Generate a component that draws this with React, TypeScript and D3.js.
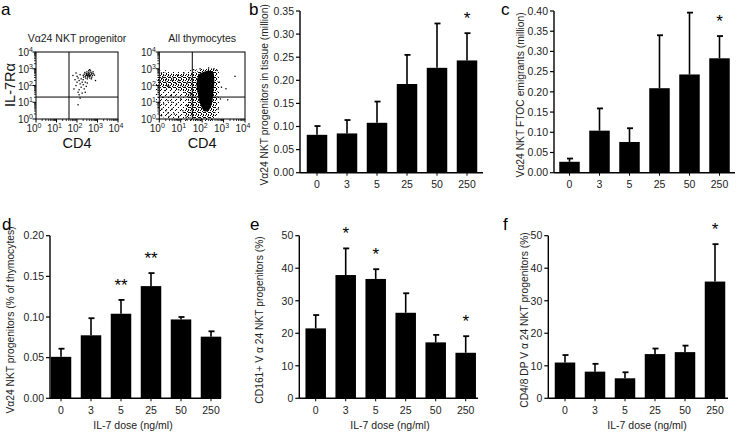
import React from "react";
import * as d3 from "d3";

// ---------- data ----------
const doses = ["0", "3", "5", "25", "50", "250"];

const tissueMean = [0.082, 0.085, 0.108, 0.192, 0.227, 0.243];
const tissueSd = [0.019, 0.029, 0.046, 0.063, 0.096, 0.059];
const tissueSig = ["", "", "", "", "", "*"];

const emigrantMean = [0.027, 0.104, 0.076, 0.209, 0.243, 0.283];
const emigrantSd = [0.008, 0.055, 0.034, 0.131, 0.153, 0.055];
const emigrantSig = ["", "", "", "", "", "*"];

const pctMean = [0.051, 0.0775, 0.104, 0.138, 0.097, 0.0758];
const pctSd = [0.01, 0.021, 0.017, 0.016, 0.003, 0.0066];
const pctSig = ["", "", "**", "**", "", ""];

const cd161Mean = [21.5, 37.9, 36.7, 26.3, 17.2, 14.0];
const cd161Sd = [4.1, 8.2, 3.0, 6.0, 2.3, 5.1];
const cd161Sig = ["", "*", "*", "", "", "*"];

const dpMean = [11.0, 8.2, 6.15, 13.6, 14.2, 35.9];
const dpSd = [2.3, 2.4, 1.85, 1.7, 2.0, 11.5];
const dpSig = ["", "", "", "", "", "*"];

const decades = [0, 1, 2, 3, 4];

// flow cytometry events, log10 units [CD4, IL-7Ra]
const nktEvents: [number, number][] = [
  [2.55, 2.65], [2.6, 2.7], [2.5, 2.6], [2.45, 2.72], [2.65, 2.58], [2.7, 2.68], [2.58, 2.8], [2.4, 2.55],
  [2.52, 2.5], [2.62, 2.45], [2.75, 2.6], [2.68, 2.78], [2.48, 2.82], [2.35, 2.68], [2.57, 2.9], [2.8, 2.7],
  [2.72, 2.5], [2.42, 2.45], [2.3, 2.6], [2.5, 2.4], [2.66, 2.88], [2.85, 2.62], [2.38, 2.78], [2.6, 2.55],
  [2.55, 2.75], [2.46, 2.64], [2.7, 2.4], [2.78, 2.82], [2.32, 2.5], [2.62, 2.95], [2.53, 2.57], [2.64, 2.63],
  [2.59, 2.6], [2.49, 2.69], [2.73, 2.73], [2.44, 2.6],
  [2.2, 2.4], [2.1, 2.3], [2.25, 2.2], [2.05, 2.45], [2.15, 2.1], [2.3, 2.05], [2.0, 2.2], [1.95, 2.0],
  [2.2, 1.9], [2.35, 1.8], [2.1, 1.75], [1.9, 2.35], [2.4, 2.2], [2.05, 1.6], [2.25, 1.55], [1.85, 1.8],
  [2.45, 1.95], [2.0, 2.55], [1.8, 2.6], [2.15, 2.65], [2.3, 2.35], [2.5, 2.15], [2.4, 1.6], [2.1, 1.45],
  [2.05, 0.85], [2.15, 1.25], [2.9, 2.3], [1.95, 2.75]
];

const thymBroad: [number, number][] = [
  [0.02, 2.85], [0.8, 2.8], [1.7, 2.95], [2.7, 2.95], [2.8, 1.5], [2.7, 0.02], [0.5, 0.02], [0.02, 0.25]
];
const thymMid: [number, number][] = [
  [0.02, 2.72], [0.8, 2.68], [1.6, 2.75], [1.9, 2.9], [2.6, 2.95], [2.72, 1.9], [2.65, 0.6], [2.5, 0.08],
  [1.7, 0.04], [1.15, 0.25], [1.35, 1.1], [1.1, 1.65], [0.5, 1.8], [0.02, 1.9]
];
const thymCore: [number, number][] = [
  [1.85, 2.65], [2.05, 2.8], [2.3, 2.88], [2.5, 2.82], [2.57, 2.3], [2.52, 1.6], [2.47, 1.0], [2.33, 0.55],
  [2.12, 0.45], [1.92, 0.85], [1.8, 1.5], [1.74, 2.1]
];
const thymStray: [number, number][] = [
  [0.1, 0.2], [0.3, 0.5], [0.2, 0.9], [0.45, 0.15], [0.6, 0.6], [0.15, 1.3], [0.4, 1.1], [0.7, 0.3],
  [0.55, 1.4], [0.25, 1.7], [0.8, 0.9], [0.9, 0.15], [0.05, 2.2], [0.35, 2.0], [0.7, 1.6], [1.0, 1.2],
  [1.1, 0.5], [0.95, 2.3], [1.2, 1.9], [1.3, 0.8], [0.5, 2.5], [0.2, 2.6], [0.65, 2.45], [1.4, 2.4],
  [1.45, 1.5], [0.85, 2.6], [1.55, 0.4], [1.15, 2.75], [0.1, 2.75], [0.3, 2.35], [0.75, 2.15], [1.05, 2.55],
  [2.8, 2.2], [2.85, 1.2], [2.75, 0.6], [2.9, 1.9], [2.7, 2.9], [1.6, 2.95], [1.9, 3.0], [2.3, 3.05],
  [2.55, 3.0], [3.53, 2.55], [3.11, 1.81], [3.19, 1.15], [0.4, 0.35], [0.12, 0.6], [0.58, 1.0], [1.25, 0.1],
  [0.02, 1.0], [0.9, 1.75], [0.3, 2.2], [0.6, 2.3], [0.15, 2.45], [1.3, 2.15], [0.45, 1.95], [1.0, 2.0]
];

const FONT = "'Liberation Sans', Arial, sans-serif";

// ---------- bar panel ----------
type BarCfg = {
  letter: string; letterX: number; letterY: number;
  axisX: number; firstCenter: number; xEnd: number;
  y0: number; yTop: number; yMax: number; yStep: number; fmt: string;
  mean: number[]; sd: number[]; sig: string[];
  label: string; labelX: number; titleX?: number;
};

function BarPanel({ c }: { c: BarCfg }) {
  const x = d3.scalePoint<string>().domain(doses).range([c.firstCenter, c.firstCenter + 150]);
  const y = d3.scaleLinear().domain([0, c.yMax]).range([c.y0, c.yTop]);
  const ticks = d3.range(0, c.yMax + c.yStep / 2, c.yStep);
  const f = d3.format(c.fmt);
  const bw = 20.5;
  const midY = (c.y0 + c.yTop) / 2 + 3;
  return (
    <g fontFamily={FONT}>
      <text x={c.letterX} y={c.letterY} fontSize={17}>{c.letter}</text>
      <line x1={c.axisX} x2={c.axisX} y1={c.yTop} y2={c.y0} stroke="#000" strokeWidth={1.4} />
      <line x1={c.axisX} x2={c.xEnd} y1={c.y0} y2={c.y0} stroke="#000" strokeWidth={1.4} />
      {ticks.map((t, i) => (
        <g key={i}>
          <line x1={c.axisX - 4} x2={c.axisX} y1={y(t)} y2={y(t)} stroke="#000" strokeWidth={1.2} />
          <text x={c.axisX - 6} y={y(t)} dy="0.36em" fontSize={10.5} textAnchor="end" fill="#222">{f(t)}</text>
        </g>
      ))}
      {doses.map((d, i) => {
        const cx = x(d)!;
        const top = y(c.mean[i] + c.sd[i]);
        return (
          <g key={d}>
            <line x1={cx} x2={cx} y1={c.y0} y2={c.y0 + 3} stroke="#000" strokeWidth={1} />
            <line x1={cx} x2={cx} y1={y(c.mean[i])} y2={top} stroke="#000" strokeWidth={1.6} />
            <line x1={cx - 2.5} x2={cx + 3.5} y1={top} y2={top} stroke="#000" strokeWidth={1.8} />
            <rect x={cx - bw / 2} y={y(c.mean[i])} width={bw} height={c.y0 - y(c.mean[i])} fill="#000" />
            <text x={cx} y={c.y0 + 15.5} fontSize={10.5} textAnchor="middle" fill="#222">{d}</text>
            {c.sig[i] && (
              <text x={cx} y={top - 9} fontSize={17} textAnchor="middle">{c.sig[i]}</text>
            )}
          </g>
        );
      })}
      <text transform={`translate(${c.labelX},${midY}) rotate(-90)`} fontSize={10.3} textAnchor="middle" fill="#222">{c.label}</text>
      {c.titleX !== undefined && (
        <text x={c.titleX} y={429} fontSize={10.5} textAnchor="middle" fill="#222">IL-7 dose (ng/ml)</text>
      )}
    </g>
  );
}

// ---------- flow panel ----------
type FlowCfg = {
  x0: number; x1: number; top: number; bottom: number;
  gateX: number; gateY: number; title: string;
  events: [number, number][];
  broad?: [number, number][]; mid?: [number, number][]; core?: [number, number][];
  yLabelX: number;
};

function Pow({ x, y, e, anchor }: { x: number; y: number; e: number; anchor: string }) {
  return (
    <text x={x} y={y} fontSize={10} textAnchor={anchor} fill="#222">
      10<tspan dy={-4} fontSize={7}>{e}</tspan>
    </text>
  );
}

function FlowPanel({ c }: { c: FlowCfg }) {
  const sx = d3.scaleLinear().domain([0, 4]).range([c.x0, c.x1]);
  const sy = d3.scaleLinear().domain([0, 4]).range([c.bottom, c.top]);
  const line = d3.line<[number, number]>().x((d) => sx(d[0])).y((d) => sy(d[1])).curve(d3.curveCatmullRomClosed);
  const minor: number[] = [];
  for (let d = 0; d < 4; d++) for (let k = 2; k <= 9; k++) minor.push(d + Math.log10(k));
  return (
    <g fontFamily={FONT}>
      <text x={(c.x0 + c.x1) / 2} y={41.5} fontSize={10.5} textAnchor="middle" fill="#222">{c.title}</text>
      {c.broad && <path d={line(c.broad)!} fill="url(#sparse)" />}
      {c.mid && <path d={line(c.mid)!} fill="url(#mid)" />}
      {c.core && <path d={line(c.core)!} fill="#000" />}
      {c.events.map((p, i) => (
        <rect key={i} x={sx(p[0]) - 0.6} y={sy(p[1]) - 0.6} width={1.3} height={1.3} fill="#000" />
      ))}
      <rect x={c.x0} y={c.top} width={c.x1 - c.x0} height={c.bottom - c.top} fill="none" stroke="#000" strokeWidth={1} />
      <line x1={sx(c.gateX)} x2={sx(c.gateX)} y1={c.top} y2={c.bottom} stroke="#000" strokeWidth={1} />
      <line x1={c.x0} x2={c.x1} y1={sy(c.gateY)} y2={sy(c.gateY)} stroke="#000" strokeWidth={1} />
      {minor.map((m, i) => (
        <g key={i}>
          <line x1={sx(m)} x2={sx(m)} y1={c.bottom} y2={c.bottom + 2} stroke="#000" strokeWidth={0.8} />
          <line x1={c.x0 - 2} x2={c.x0} y1={sy(m)} y2={sy(m)} stroke="#000" strokeWidth={0.8} />
        </g>
      ))}
      {decades.map((d) => (
        <g key={d}>
          <line x1={sx(d)} x2={sx(d)} y1={c.bottom} y2={c.bottom + 3.5} stroke="#000" strokeWidth={1} />
          <line x1={c.x0 - 3.5} x2={c.x0} y1={sy(d)} y2={sy(d)} stroke="#000" strokeWidth={1} />
          <Pow x={sx(d) - 2} y={c.bottom + 13} e={d} anchor="middle" />
          <Pow x={c.yLabelX} y={sy(d) + 4} e={d} anchor="end" />
        </g>
      ))}
      <text x={(c.x0 + c.x1) / 2} y={148} fontSize={14.5} textAnchor="middle" fill="#111">CD4</text>
    </g>
  );
}

const panelB: BarCfg = {
  letter: "b", letterX: 249, letterY: 15, axisX: 300, firstCenter: 317, xEnd: 483,
  y0: 172.7, yTop: 11, yMax: 0.35, yStep: 0.05, fmt: ".2f",
  mean: tissueMean, sd: tissueSd, sig: tissueSig,
  label: "Vα24 NKT progenitors in tissue (million)", labelX: 268
};
const panelC: BarCfg = {
  letter: "c", letterX: 501, letterY: 15, axisX: 554, firstCenter: 569.5, xEnd: 735,
  y0: 172.7, yTop: 11, yMax: 0.4, yStep: 0.05, fmt: ".2f",
  mean: emigrantMean, sd: emigrantSd, sig: emigrantSig,
  label: "Vα24 NKT FTOC emigrants (million)", labelX: 524
};
const panelD: BarCfg = {
  letter: "d", letterX: 2, letterY: 230, axisX: 50, firstCenter: 61, xEnd: 221,
  y0: 398.3, yTop: 235.7, yMax: 0.2, yStep: 0.05, fmt: ".2f",
  mean: pctMean, sd: pctSd, sig: pctSig,
  label: "Vα24 NKT progenitors (% of thymocytes)", labelX: 13.5, titleX: 133
};
const panelE: BarCfg = {
  letter: "e", letterX: 250, letterY: 230, axisX: 299.3, firstCenter: 315.7, xEnd: 478,
  y0: 398.3, yTop: 235.7, yMax: 50, yStep: 10, fmt: "d",
  mean: cd161Mean, sd: cd161Sd, sig: cd161Sig,
  label: "CD161+ V α 24 NKT progenitors (%)", labelX: 263, titleX: 390
};
const panelF: BarCfg = {
  letter: "f", letterX: 503, letterY: 230, axisX: 548.3, firstCenter: 565, xEnd: 728,
  y0: 398.3, yTop: 235.7, yMax: 50, yStep: 10, fmt: "d",
  mean: dpMean, sd: dpSd, sig: dpSig,
  label: "CD4/8 DP V α 24 NKT progenitors (%)", labelX: 528, titleX: 647
};

const flowNkt: FlowCfg = {
  x0: 36, x1: 118, top: 52, bottom: 119, gateX: 1.61, gateY: 1.31,
  title: "Vα24 NKT progenitor", events: nktEvents, yLabelX: 33
};
const flowAll: FlowCfg = {
  x0: 159.3, x1: 245, top: 52, bottom: 119, gateX: 1.54, gateY: 1.31,
  title: "All thymocytes", events: thymStray, broad: thymBroad, mid: thymMid, core: thymCore,
  yLabelX: 156
};

export default function App() {
  return (
    <svg width={740} height={434} style={{ position: "absolute", left: 0, top: 0, background: "#fff" }}>
      <defs>
        <pattern id="sparse" width={5} height={5} patternUnits="userSpaceOnUse">
          <rect x={0} y={0} width={1} height={1} fill="#000" />
          <rect x={3} y={2} width={1} height={1} fill="#000" />
          <rect x={1} y={4} width={1} height={1} fill="#000" />
        </pattern>
        <pattern id="mid" width={5} height={5} patternUnits="userSpaceOnUse">
          <rect x={0} y={0} width={1} height={1} fill="#000" />
          <rect x={2} y={1} width={1} height={1} fill="#000" />
          <rect x={4} y={2} width={1} height={1} fill="#000" />
          <rect x={1} y={3} width={1} height={1} fill="#000" />
          <rect x={3} y={4} width={1} height={1} fill="#000" />
          <rect x={3} y={0} width={1} height={1} fill="#000" />
          <rect x={0} y={2} width={1} height={1} fill="#000" />
        </pattern>
      </defs>
      <rect width={740} height={434} fill="#fff" />
      <text x={1} y={15} fontSize={17} fontFamily={FONT}>a</text>
      <text transform="translate(15,85) rotate(-90)" fontSize={14.5} textAnchor="middle" fontFamily={FONT} fill="#111">IL-7Rα</text>
      <FlowPanel c={flowNkt} />
      <FlowPanel c={flowAll} />
      <BarPanel c={panelB} />
      <BarPanel c={panelC} />
      <BarPanel c={panelD} />
      <BarPanel c={panelE} />
      <BarPanel c={panelF} />
    </svg>
  );
}
